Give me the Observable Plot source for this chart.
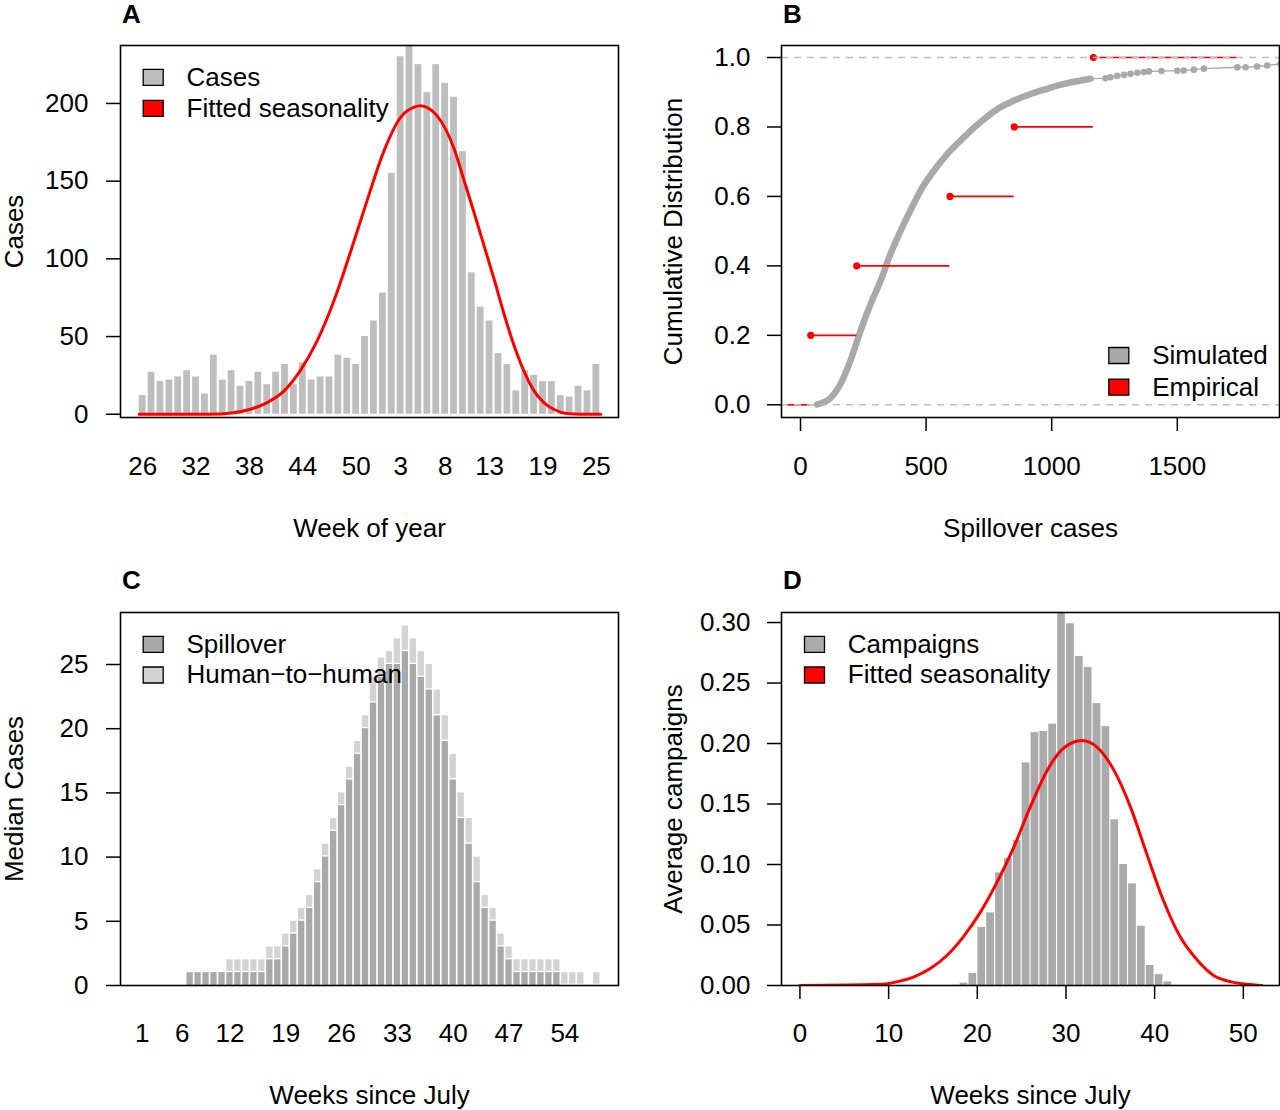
<!DOCTYPE html>
<html>
<head>
<meta charset="utf-8">
<script src="https://cdn.jsdelivr.net/npm/d3@7"></script>
<script src="https://cdn.jsdelivr.net/npm/@observablehq/plot@0.6"></script>
<style>
  html, body { margin: 0; padding: 0; background: #fff; }
  #fig { position: relative; width: 1280px; height: 1110px; overflow: hidden; background: #fff; }
  .panel { position: absolute; }
  .panel svg { display: block; }
</style>
</head>
<body>
<div id="fig"></div>
<script>
// ---------------- Panel A: weekly cases ----------------
const weeksA = [26,27,28,29,30,31,32,33,34,35,36,37,38,39,40,41,42,43,44,45,46,47,48,49,50,51,52,
                1,2,3,4,5,6,7,8,9,10,11,12,13,14,15,16,17,18,19,20,21,22,23,24,25];
const casesA = [12,27,21,22,24,28,24,13,38,22,28,18,21,27,19,27,32,19,33,22,24,24,38,36,32,50,
                60,78,155,230,237,225,207,225,213,204,169,91,69,60,39,32,15,28,25,21,21,12,11,18,15,32];
const tickWeeksA = [26,32,38,44,50,3,8,13,19,25];
const yTicksA = [0,50,100,150,200];
// fitted seasonality curve (position in bar units, cases)
const fitAPos = [-0.4,7.5,10.25,12.1,14.0,15.9,17.7,19.6,21.5,23.4,25.2,27.1,29.0,30.5,31.2,33.1,35.0,36.1,37.2,38.35,39.5,40.6,41.7,42.85,44.0,45.1,46.2,47.7,49.2,51.5];
const fitAVal = [0,0,1,3.2,7.5,15,27.9,47,73,105,137,169,191,197.6,198.5,192,171,151,130.8,109,87,65,45,27.9,15,7.5,3.2,0.4,0,0];
const legendA = ["Cases", "Fitted seasonality"];

// ---------------- Panel B: cumulative distribution ----------------
const simX = [66,120,159,199,239,279,319,358,398,438,478,531,584,650,717,783,850,916,982,1049,1115,1155];
const simF = [0.001,0.02,0.06,0.127,0.213,0.29,0.357,0.434,0.5,0.56,0.617,0.674,0.722,0.77,0.814,0.851,0.876,0.895,0.91,0.924,0.934,0.939];
const simTailX = [1214,1234,1261,1288,1314,1341,1367,1387,1437,1500,1526,1566,1606,1739,1772,1818,1858,1911];
const simTailF = [0.940,0.943,0.947,0.950,0.953,0.956,0.958,0.960,0.961,0.962,0.9625,0.965,0.968,0.972,0.972,0.974,0.977,0.982];
const empX = [41,224,595,851,1166];
const empF = [0.2,0.4,0.6,0.8,1.0];
const empLo = -53, empHi = 1739;
const xTicksB = [0,500,1000,1500];
const yTicksB = [0,0.2,0.4,0.6,0.8,1.0];
const legendB = ["Simulated", "Empirical"];

// ---------------- Panel C: median cases by source ----------------
const weeksC = [1,2,3,4,5,6,7,8,9,10,11,12,13,14,15,16,17,18,19,20,21,22,23,24,25,26,27,28,29,30,
                31,32,33,34,35,36,37,38,39,40,41,42,43,44,45,46,47,48,49,50,51,52,53,54,55,56,57,58];
const spillC = [0,0,0,0,0,0,1,1,1,1,1,1,1,1,1,1,2,2,3,4,5,6,8,10,12,14,16,18,20,22,
                24,25,25,26,25,24,23,21,19,16,13,11,8,6,5,3,2,1,1,1,1,1,1,0,0,0,0,0];
const h2hC   = [0,0,0,0,0,0,0,0,0,0,0,1,1,1,1,1,1,1,1,1,1,1,1,1,1,1,1,1,1,2,
                1.5,1,2,2,2,2,2,2,2,2,2,2,2,1,1,1,1,1,1,1,1,1,1,1,1,1,0,1];
const tickWeeksC = [1,6,12,19,26,33,40,47,54];
const yTicksC = [0,5,10,15,20,25];
const legendC = ["Spillover", "Human\u2212to\u2212human"];

// ---------------- Panel D: average campaigns ----------------
const weeksD = [18,19,20,21,22,23,24,25,26,27,28,29,30,31,32,33,34,35,36,37,38,39,40,41];
const campD = [0.002,0.010,0.048,0.060,0.093,0.105,0.120,0.184,0.209,0.210,0.216,0.31,0.299,0.272,0.263,0.233,0.214,0.137,0.100,0.084,0.049,0.0165,0.009,0.003];
const fitDWeek = [0,9,10.9,12.8,14.7,16.6,18.4,20.3,22.2,24.1,26,27.9,29.7,31.8,33.5,35.4,37.3,39.1,41,42.9,44.8,46.7,48.6,50.4,52.1];
const fitDVal  = [0,0.001,0.003,0.007,0.014,0.025,0.040,0.060,0.085,0.114,0.148,0.178,0.196,0.2025,0.197,0.178,0.147,0.109,0.070,0.040,0.021,0.008,0.003,0.001,0];
const xTicksD = [0,10,20,30,40,50];
const yTicksD = [0,0.05,0.10,0.15,0.20,0.25,0.30];
const legendD = ["Campaigns", "Fitted seasonality"];

// ---------------- shared styling ----------------
const FONT = '"Liberation Sans", Arial, Helvetica, sans-serif';
const FS = 26;
const RED = "#ff0000";
const boxSym = { draw(ctx) { ctx.moveTo(-10, -8); ctx.lineTo(10, -8); ctx.lineTo(10, 8); ctx.lineTo(-10, 8); ctx.closePath(); } };

function legendMarks(labels, fills, dx, dy0, step, tdx) {
  const m = [];
  labels.forEach((lab, i) => {
    m.push(Plot.dot([lab], {frameAnchor: "top-left", dx, dy: dy0 + i * step, symbol: boxSym, r: 1,
      fill: fills[i], stroke: "black", strokeWidth: 1.3}));
    m.push(Plot.text([lab], {frameAnchor: "top-left", dx: tdx, dy: dy0 + i * step, text: d => d,
      textAnchor: "start", lineAnchor: "middle", fontSize: FS, fill: "black"}));
  });
  return m;
}
function letter(t, dy) {
  return Plot.text([t], {frameAnchor: "top-left", dx: 11, dy, text: d => d, textAnchor: "middle", lineAnchor: "middle",
    fontSize: FS, fontWeight: "bold", fill: "black"});
}
function xTitle(t, dy) {
  return Plot.text([t], {frameAnchor: "bottom", dy, text: d => d, textAnchor: "middle", lineAnchor: "middle", fontSize: FS, fill: "black"});
}
function yTitle(t, dx) {
  return Plot.text([t], {frameAnchor: "left", dx, rotate: -90, text: d => d, textAnchor: "middle", lineAnchor: "middle", fontSize: FS, fill: "black"});
}
const baseStyle = {fontFamily: FONT, fontSize: FS + "px", background: "white", color: "black", overflow: "visible"};

function place(svg, left, top) {
  const div = document.createElement("div");
  div.className = "panel";
  div.style.left = left + "px";
  div.style.top = top + "px";
  div.appendChild(svg);
  document.getElementById("fig").appendChild(div);
}

// ---------------- Build A ----------------
const idxA = d3.range(weeksA.length);
const fitA = fitAPos.map((p, i) => ({p, v: fitAVal[i]}));
const chartA = Plot.plot({
  width: 640, height: 555,
  marginLeft: 120, marginRight: 22, marginTop: 45, marginBottom: 138,
  style: baseStyle,
  x: {type: "linear", domain: [-2.49, 53.49]},
  y: {domain: [-2.1, 237.3]},
  marks: [
    Plot.rect(idxA, {x1: i => i - 0.38, x2: i => i + 0.38, y1: 0, y2: i => casesA[i], fill: "#bebebe", clip: true}),
    Plot.line(fitA, {x: "p", y: "v", stroke: RED, strokeWidth: 3, curve: "monotone-x", clip: true}),
    ...legendMarks(legendA, ["#bebebe", RED], 32.7, 31.8, 31, 66),
    Plot.axisY({ticks: yTicksA, tickSize: 14, tickPadding: 18, fontSize: FS, strokeWidth: 1.5, label: null, tickFormat: d => String(d)}),
    Plot.axisX({ticks: tickWeeksA.map(w => weeksA.indexOf(w)), tickFormat: i => String(weeksA[i]), tickSize: 0, tickPadding: 39, fontSize: FS, label: null}),
    Plot.frame({stroke: "black", strokeWidth: 1.6}),
    letter("A", -31),
    xTitle("Week of year", 111),
    yTitle("Cases", -106)
  ]
});
place(chartA, 0, 0);

// ---------------- Build B ----------------
const simAll = simX.map((x, i) => ({x, f: simF[i]})).concat(simTailX.map((x, i) => ({x, f: simTailF[i]})));
const simDense = simX.map((x, i) => ({x, f: simF[i]}));
const simTail = simTailX.map((x, i) => ({x, f: simTailF[i]}));
const stepLevels = [0, ...empF];
const stepLo = [empLo, ...empX];
const stepHi = [...empX, empHi];
const steps = stepLevels.map((f, i) => ({f, x1: stepLo[i], x2: stepHi[i]}));
const empPts = empX.map((x, i) => ({x, f: empF[i]}));
const chartB = Plot.plot({
  width: 640, height: 555,
  marginLeft: 141, marginRight: 1, marginTop: 45, marginBottom: 138,
  style: baseStyle,
  x: {type: "linear", domain: [-75.6, 1906.8]},
  y: {domain: [-0.0366, 1.0346]},
  marks: [
    Plot.line(simAll, {x: "x", y: "f", stroke: "#a9a9a9", strokeWidth: 1.3, clip: true}),
    Plot.line(simDense, {x: "x", y: "f", stroke: "#a9a9a9", strokeWidth: 6.5, strokeLinecap: "round", curve: "monotone-x", clip: true}),
    Plot.dot(simTail, {x: "x", y: "f", r: 3.3, fill: "#a9a9a9", clip: true}),
    Plot.ruleY(steps, {y: "f", x1: "x1", x2: "x2", stroke: RED, strokeWidth: 1.7, clip: true}),
    Plot.dot(empPts, {x: "x", y: "f", r: 3.6, fill: RED}),
    Plot.ruleY([0, 1], {stroke: "#bdbdbd", strokeWidth: 1.6, strokeDasharray: "7,6"}),
    ...legendMarks(legendB, ["#a9a9a9", RED], 337.3, 310, 31.7, 370.7),
    Plot.axisY({ticks: yTicksB, tickSize: 14, tickPadding: 17, fontSize: FS, strokeWidth: 1.5, label: null, tickFormat: d3.format(".1f")}),
    Plot.axisX({ticks: xTicksB, tickSize: 14, tickPadding: 25, fontSize: FS, strokeWidth: 1.5, label: null, tickFormat: d => String(d)}),
    Plot.frame({stroke: "black", strokeWidth: 1.6}),
    letter("B", -31),
    xTitle("Spillover cases", 111),
    yTitle("Cumulative Distribution", -108)
  ]
});
place(chartB, 640, 0);

// ---------------- Build C ----------------
const idxC = d3.range(weeksC.length);
const chartC = Plot.plot({
  width: 640, height: 555,
  marginLeft: 120, marginRight: 22, marginTop: 57, marginBottom: 125,
  style: baseStyle,
  x: {type: "linear", domain: [-2.73, 59.73]},
  y: {domain: [0, 29.05]},
  marks: [
    Plot.rect(idxC.filter(i => spillC[i] > 0), {x1: i => i - 0.395, x2: i => i + 0.395, y1: 0, y2: i => spillC[i], fill: "#a9a9a9"}),
    Plot.rect(idxC.filter(i => h2hC[i] > 0), {x1: i => i - 0.395, x2: i => i + 0.395, y1: i => spillC[i], y2: i => spillC[i] + h2hC[i],
      fill: "#d3d3d3", insetBottom: 1.3}),
    ...legendMarks(legendC, ["#a9a9a9", "#d3d3d3"], 32.7, 31.8, 30.7, 66),
    Plot.axisY({ticks: yTicksC, tickSize: 14, tickPadding: 18, fontSize: FS, strokeWidth: 1.5, label: null, tickFormat: d => String(d)}),
    Plot.axisX({ticks: tickWeeksC.map(w => weeksC.indexOf(w)), tickFormat: i => String(weeksC[i]), tickSize: 0, tickPadding: 38, fontSize: FS, label: null}),
    Plot.frame({stroke: "black", strokeWidth: 1.6}),
    letter("C", -32),
    xTitle("Weeks since July", 110),
    yTitle("Median Cases", -106)
  ]
});
place(chartC, 0, 555);

// ---------------- Build D ----------------
const barsD = weeksD.map((w, i) => ({w, v: campD[i]}));
const fitD = fitDWeek.map((w, i) => ({w, v: fitDVal[i]}));
const chartD = Plot.plot({
  width: 640, height: 555,
  marginLeft: 141, marginRight: 1, marginTop: 57, marginBottom: 125,
  style: baseStyle,
  x: {type: "linear", domain: [-2.08, 54.08]},
  y: {domain: [0, 0.3083]},
  marks: [
    Plot.rect(barsD, {x1: d => d.w + 0.065, x2: d => d.w + 0.935, y1: 0, y2: "v", fill: "#aaaaaa", clip: true}),
    Plot.line(fitD, {x: "w", y: "v", stroke: RED, strokeWidth: 3, curve: "monotone-x", clip: true}),
    ...legendMarks(legendD, ["#aaaaaa", RED], 33, 31.8, 30.7, 66.3),
    Plot.axisY({ticks: yTicksD, tickSize: 14, tickPadding: 17, fontSize: FS, strokeWidth: 1.5, label: null, tickFormat: d3.format(".2f")}),
    Plot.axisX({ticks: xTicksD, tickSize: 14, tickPadding: 24, fontSize: FS, strokeWidth: 1.5, label: null, tickFormat: d => String(d)}),
    Plot.frame({stroke: "black", strokeWidth: 1.6}),
    letter("D", -32),
    xTitle("Weeks since July", 110),
    yTitle("Average campaigns", -108)
  ]
});
place(chartD, 640, 555);
</script>
</body>
</html>
